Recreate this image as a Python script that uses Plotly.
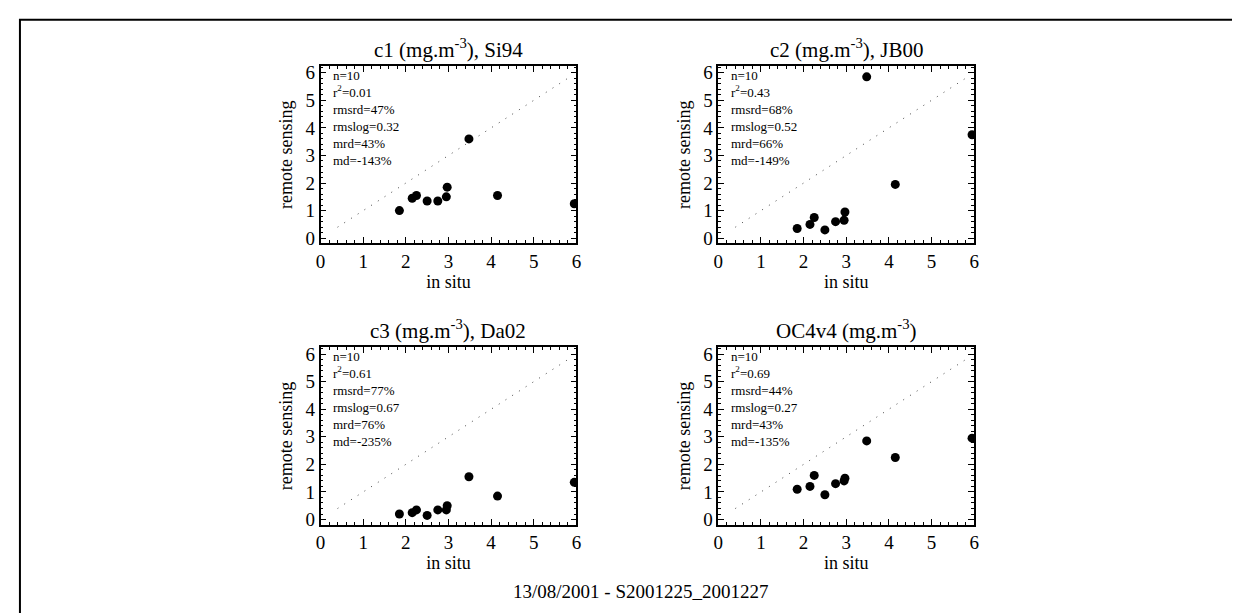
import plotly.graph_objects as go

# in situ chlorophyll (shared x for all four panels)
in_situ = [1.85, 2.15, 2.25, 2.5, 2.75, 2.95, 2.97, 3.48, 4.15, 5.95]

# remote sensing estimates per algorithm
c1_si94 = [1.0, 1.45, 1.55, 1.35, 1.35, 1.5, 1.85, 3.6, 1.55, 1.25]
c2_jb00 = [0.35, 0.5, 0.75, 0.3, 0.6, 0.65, 0.95, 5.85, 1.95, 3.75]
c3_da02 = [0.2, 0.25, 0.35, 0.15, 0.35, 0.35, 0.5, 1.55, 0.85, 1.35]
oc4v4 = [1.1, 1.2, 1.6, 0.9, 1.3, 1.4, 1.5, 2.85, 2.25, 2.95]

one_to_one = [0.4, 5.8]

titles = ["c1 (mg.m<sup>-3</sup>), Si94", "c2 (mg.m<sup>-3</sup>), JB00",
          "c3 (mg.m<sup>-3</sup>), Da02", "OC4v4 (mg.m<sup>-3</sup>)"]
stats = [
    ["n=10", "r<sup>2</sup>=0.01", "rmsrd=47%", "rmslog=0.32", "mrd=43%", "md=-143%"],
    ["n=10", "r<sup>2</sup>=0.43", "rmsrd=68%", "rmslog=0.52", "mrd=66%", "md=-149%"],
    ["n=10", "r<sup>2</sup>=0.61", "rmsrd=77%", "rmslog=0.67", "mrd=76%", "md=-235%"],
    ["n=10", "r<sup>2</sup>=0.69", "rmsrd=44%", "rmslog=0.27", "mrd=43%", "md=-135%"],
]
footer = "13/08/2001 - S2001225_2001227"

W, H = 1240, 613
FONT = "Liberation Serif"

# pixel boxes of the four plot areas (left, right, top, bottom)
boxes = [(310, 568, 55, 235), (711, 969, 55, 235),
         (310, 568, 341, 521), (711, 969, 341, 521)]

series = [c1_si94, c2_jb00, c3_da02, oc4v4]

fig = go.Figure()
layout = {}
annotations = []

for i, (ys, box) in enumerate(zip(series, boxes)):
    n = "" if i == 0 else str(i + 1)
    xa, ya = "x" + n, "y" + n
    l, r, t, b = box

    fig.add_trace(go.Scatter(
        x=one_to_one, y=one_to_one, xaxis=xa, yaxis=ya, mode="lines",
        line=dict(color="#444444", width=1, dash="1px,7px"),
        showlegend=False, hoverinfo="skip"))
    fig.add_trace(go.Scatter(
        x=in_situ, y=ys, xaxis=xa, yaxis=ya, mode="markers",
        marker=dict(color="black", size=9),
        showlegend=False))

    axis_common = dict(
        showgrid=False, zeroline=False, showline=True, linecolor="black",
        linewidth=1.5, mirror="allticks", ticks="inside", ticklen=6,
        tickcolor="black", tickfont=dict(family=FONT, size=19, color="black"),
        dtick=1,
        minor=dict(ticks="inside", ticklen=3, dtick=0.2, tickcolor="black"),
    )
    layout["xaxis" + n] = dict(
        axis_common, domain=[l / W, r / W], range=[0, 6], anchor=ya,
        title=dict(text="in situ", font=dict(family=FONT, size=18, color="black"),
                   standoff=2))
    layout["yaxis" + n] = dict(
        axis_common, domain=[1 - b / H, 1 - t / H], range=[-0.18, 6.24], anchor=xa,
        title=dict(text="remote sensing", font=dict(family=FONT, size=18, color="black"),
                   standoff=8))

    annotations.append(dict(
        text=titles[i], xref=xa + " domain", yref=ya + " domain", x=0.5, y=1,
        xanchor="center", yanchor="bottom", yshift=2, showarrow=False,
        font=dict(family=FONT, size=21, color="black")))
    annotations.append(dict(
        text="<br>".join(stats[i]), xref=xa + " domain", yref=ya + " domain",
        x=0.04, y=1.0, xanchor="left", yanchor="top", align="left",
        showarrow=False, font=dict(family=FONT, size=13, color="black")))

annotations.append(dict(
    text=footer, xref="paper", yref="paper", x=633 / W, y=1 - 589 / H,
    xanchor="center", yanchor="middle", showarrow=False,
    font=dict(family=FONT, size=19, color="black")))

fig.update_layout(
    width=W, height=H,
    margin=dict(l=0, r=0, t=0, b=0),
    font=dict(family=FONT, color="black"),
    paper_bgcolor="white", plot_bgcolor="white",
    annotations=annotations,
    shapes=[dict(type="rect", xref="paper", yref="paper",
                 x0=7 / W, x1=1238 / W, y0=-0.02, y1=1 - 8 / H,
                 line=dict(color="black", width=2))],
    **layout,
)

fig.write_html("out.html")
